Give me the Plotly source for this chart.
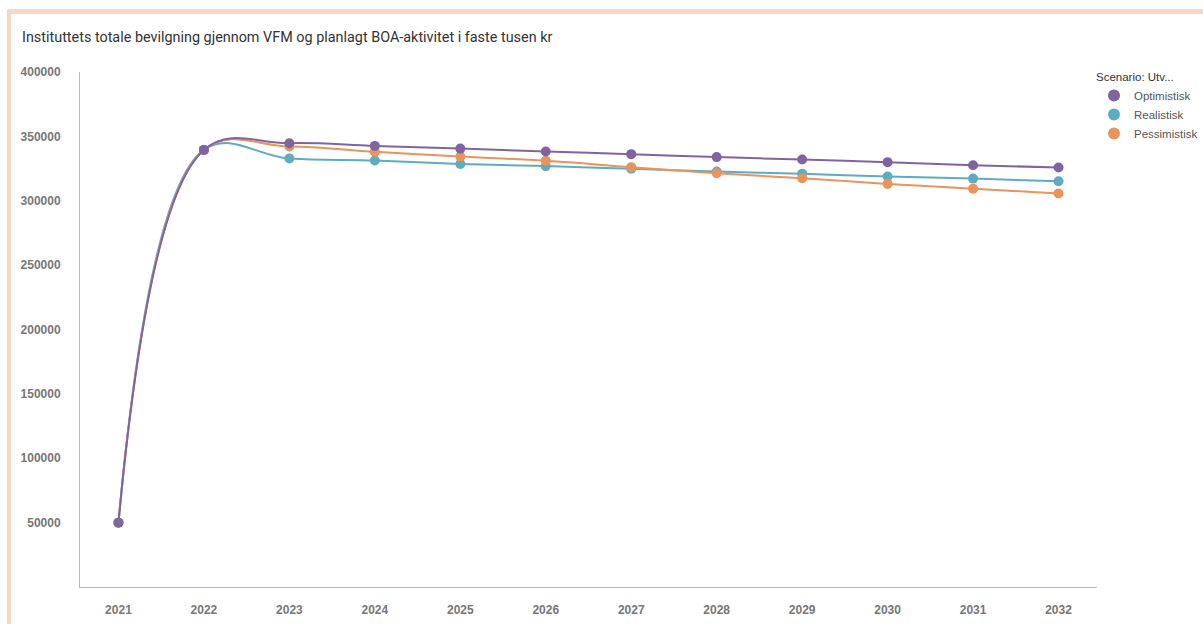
import plotly.graph_objects as go

years = [2021, 2022, 2023, 2024, 2025, 2026, 2027, 2028, 2029, 2030, 2031, 2032]
optimistisk = [50000, 339500, 344700, 342600, 340500, 338200, 336200, 333900, 332000, 330000, 327600, 325800]
realistisk = [50000, 339500, 332800, 331200, 328600, 326900, 324800, 322700, 320900, 318800, 317200, 315200]
pessimistisk = [50000, 339500, 342100, 338000, 334300, 331000, 326100, 321400, 317500, 313100, 309400, 305600]
series_names = ["Optimistisk", "Realistisk", "Pessimistisk"]
series_colors = ["#8064a2", "#5fabc1", "#e8945a"]
y_ticks = [50000, 100000, 150000, 200000, 250000, 300000, 350000, 400000]

W, H = 1203, 624
L, R, T, B = 80, 1203 - 1097, 72, 624 - 587

fig = go.Figure()
data = [optimistisk, realistisk, pessimistisk]
# draw realistic, pessimistic first so optimistic on top
for idx in [1, 2, 0]:
    fig.add_trace(go.Scatter(
        x=years, y=data[idx], mode="lines+markers", name=series_names[idx],
        line=dict(color=series_colors[idx], width=2, shape="spline", smoothing=1.1),
        marker=dict(color=series_colors[idx], size=10),
        showlegend=False,
    ))
for idx in range(3):
    fig.add_trace(go.Scatter(
        x=[None], y=[None], mode="markers", name=series_names[idx],
        marker=dict(color=series_colors[idx], size=12),
        showlegend=True,
    ))

def px_x(p):
    return (p - L) / (W - L - R)

def px_y(p):
    return (H - B - p) / (H - T - B)

border = "#f8d6c6"
fig.add_shape(type="rect", xref="paper", yref="paper",
              x0=px_x(7), x1=px_x(1203), y0=px_y(14), y1=px_y(9),
              fillcolor=border, line=dict(width=0), layer="below")
fig.add_shape(type="rect", xref="paper", yref="paper",
              x0=px_x(7), x1=px_x(11), y0=px_y(624), y1=px_y(9),
              fillcolor=border, line=dict(width=0), layer="below")

fig.update_layout(
    width=W, height=H,
    margin=dict(l=L, r=R, t=T, b=B, pad=0, autoexpand=False),
    paper_bgcolor="white", plot_bgcolor="white",
    title=dict(
        text="Instituttets totale bevilgning gjennom VFM og planlagt BOA-aktivitet i faste tusen kr",
        x=22 / W, xanchor="left", y=1 - 37 / H, yanchor="middle",
        font=dict(family="Roboto", size=14.4, color="#333333"),
    ),
    showlegend=True,
    legend=dict(
        title=dict(text="Scenario: Utv...", font=dict(family="Liberation Sans", size=11.5, color="#333333")),
        xref="container", yref="container",
        x=1094 / W, xanchor="left", y=1 - 66 / H, yanchor="top",
        font=dict(family="Liberation Sans", size=11.5, color="#555555"),
        itemwidth=30, tracegroupgap=0, bgcolor="rgba(0,0,0,0)",
    ),
    xaxis=dict(
        range=[2020.55, 2032.45], tickvals=years, ticktext=[str(y) for y in years],
        showgrid=False, zeroline=False, showline=True, linecolor="#bbbbbb", linewidth=1,
        ticks="", ticklabelstandoff=12,
        tickfont=dict(family="Liberation Sans", size=12, color="#777777", weight="bold"),
    ),
    yaxis=dict(
        range=[0, 400000], tickvals=y_ticks, ticktext=[str(v) for v in y_ticks],
        showgrid=False, zeroline=False, showline=True, linecolor="#bbbbbb", linewidth=1,
        ticks="", ticklabelstandoff=16,
        tickfont=dict(family="Liberation Sans", size=12, color="#777777", weight="bold"),
    ),
)

fig.write_html("out.html")
